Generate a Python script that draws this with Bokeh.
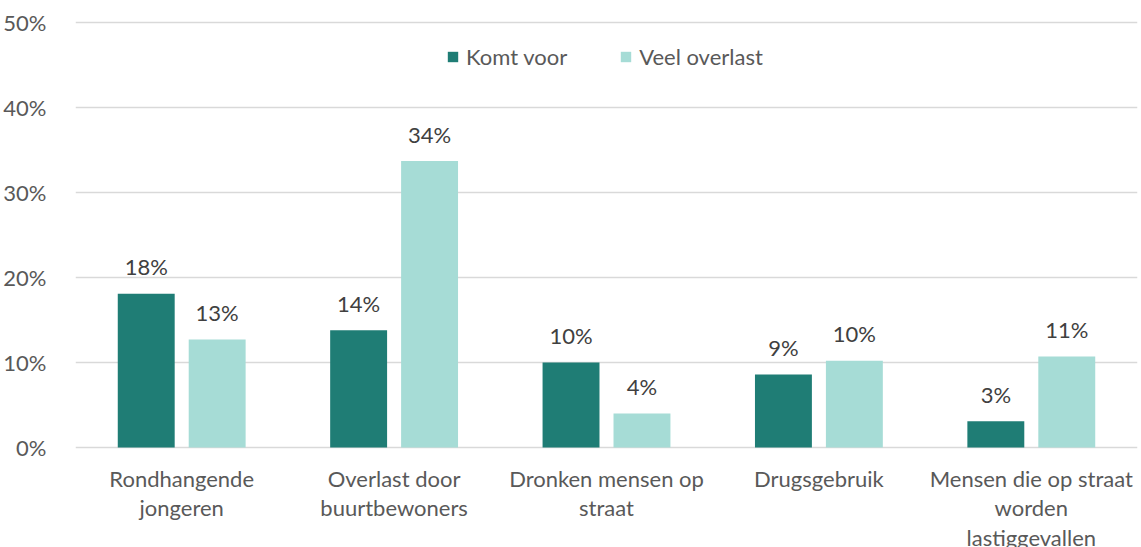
from bokeh.plotting import figure
from bokeh.models import ColumnDataSource, FactorRange, Range1d, PrintfTickFormatter, FixedTicker
from bokeh.transform import dodge
from bokeh.core.properties import value
from bokeh.embed import file_html
from bokeh.resources import INLINE

categories = ["Rondhangende\njongeren", "Overlast door\nbuurtbewoners", "Dronken mensen op\nstraat",
              "Drugsgebruik", "Mensen die op straat\nworden\nlastiggevallen"]
komt_voor = [18.1, 13.8, 10.0, 8.6, 3.1]
veel_overlast = [12.7, 33.7, 4.0, 10.2, 10.7]
y_ticks = [0, 10, 20, 30, 40, 50]

DARK = "#1F7D75"
LIGHT = "#A6DCD6"
TXT = "#595959"
FONT = "Lato"
FS = "22px"

src = ColumnDataSource(dict(
    cat=categories,
    zero=[0] * len(categories),
    komt=komt_voor,
    veel=veel_overlast,
    komt_lbl=[f"{round(v)}%" for v in komt_voor],
    veel_lbl=[f"{round(v)}%" for v in veel_overlast],
))

# frame extends below 0 so the category labels (clipped at the bottom as in the source) fit
PX_PER_UNIT = 425 / 50
p = figure(width=1141, height=547, x_range=FactorRange(*categories, range_padding=0),
           y_range=Range1d(-100 / PX_PER_UNIT, 50 + 2 / PX_PER_UNIT), output_backend="svg",
           toolbar_location=None,
           min_border_left=74, min_border_right=4, min_border_top=20, min_border_bottom=0)
p.outline_line_color = None
p.background_fill_color = "white"
p.border_fill_color = "white"

bw = 0.268
off = 0.167
p.vbar(x=dodge("cat", -off, range=p.x_range), top="komt", width=bw, source=src,
       fill_color=DARK, line_color=None, legend_label="Komt voor")
p.vbar(x=dodge("cat", off, range=p.x_range), top="veel", width=bw, source=src,
       fill_color=LIGHT, line_color=None, legend_label="Veel overlast")

for col, lbl, o in (("komt", "komt_lbl", -off), ("veel", "veel_lbl", off)):
    p.text(x=dodge("cat", o, range=p.x_range), y=col, text=lbl, source=src,
           text_align="center", text_baseline="alphabetic", y_offset=-27,
           text_font=value(FONT), text_font_size=FS, text_color="#404040")

# category labels
p.text(x="cat", y="zero", text="cat", source=src, text_align="center", text_baseline="top",
       y_offset=17, text_font=value(FONT), text_font_size=FS, text_color=TXT,
       text_line_height=1.1)

p.xaxis.visible = False
p.xgrid.grid_line_color = None
p.ygrid.grid_line_color = "#D9D9D9"
p.ygrid.grid_line_width = 1.5
p.yaxis.ticker = FixedTicker(ticks=y_ticks)
p.ygrid.ticker = FixedTicker(ticks=y_ticks)
p.yaxis.formatter = PrintfTickFormatter(format="%d%%")
p.yaxis.axis_line_color = None
p.yaxis.major_tick_line_color = None
p.yaxis.minor_tick_line_color = None
p.yaxis.major_label_standoff = 23
p.yaxis.major_label_text_font = FONT
p.yaxis.major_label_text_font_size = FS
p.yaxis.major_label_text_color = TXT

lg = p.legend[0]
lg.orientation = "horizontal"
lg.location = (371, 477)
lg.border_line_color = None
lg.background_fill_alpha = 0
lg.padding = 0
lg.margin = 0
lg.spacing = 52
lg.glyph_width = 13
lg.glyph_height = 13
lg.label_standoff = 7
lg.label_text_font = FONT
lg.label_text_font_size = FS
lg.label_text_color = TXT

open("out.html", "w").write(file_html(p, INLINE))
